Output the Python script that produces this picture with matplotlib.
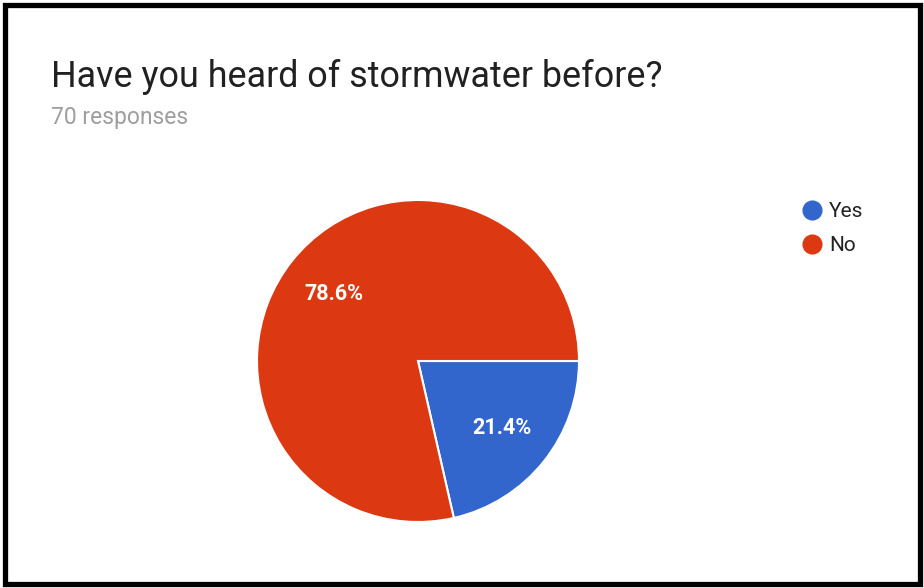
import matplotlib
matplotlib.use("Agg")
import matplotlib.pyplot as plt
from matplotlib.lines import Line2D
from matplotlib.patches import Rectangle

labels = ["Yes", "No"]
values = [15, 55]
colors = ["#3366CC", "#DC3912"]
title = "Have you heard of stormwater before?"
subtitle = "70 responses"

W, H = 924, 588
plt.rcParams['font.family'] = ['Roboto', 'DejaVu Sans']
fig = plt.figure(figsize=(W / 100, H / 100), dpi=100)
fig.patch.set_facecolor("white")

cx, cy, r = 418, 361, 161
ax = fig.add_axes([(cx - r) / W, (H - cy - r) / H, 2 * r / W, 2 * r / H])
wedges, texts, autotexts = ax.pie(
    values, colors=colors, startangle=0, counterclock=False,
    autopct="%1.1f%%", pctdistance=0.67,
    wedgeprops=dict(edgecolor="white", linewidth=1.5),
    textprops=dict(color="white", fontsize=15.5, fontweight="bold"))
ax.set_xlim(-1.0, 1.0)
ax.set_ylim(-1.0, 1.0)
ax.set_aspect("equal")
ax.axis("off")

fig.text(51 / W, 1 - 87 / H, title, fontsize=25.8, color="#212121", ha="left", va="baseline")
fig.text(51 / W, 1 - 124 / H, subtitle, fontsize=16.5, color="#9e9e9e", ha="left", va="baseline")

handles = [Line2D([], [], marker="o", linestyle="none", markersize=13.5,
                  markerfacecolor=c, markeredgecolor=c) for c in colors]
leg = fig.legend(handles, labels, loc="upper left",
                 bbox_to_anchor=(801 / W, 1 - 202 / H), frameon=False,
                 fontsize=15, handletextpad=0.25, labelspacing=0.72,
                 handlelength=1.1, borderpad=0, borderaxespad=0)
for t in leg.get_texts():
    t.set_color("#222222")

fig.add_artist(Rectangle((4.5 / W, 4.5 / H), (W - 9) / W, (H - 9) / H,
                         transform=fig.transFigure, fill=False,
                         edgecolor="black", linewidth=3.8))

fig.savefig("out.png", dpi=100)
